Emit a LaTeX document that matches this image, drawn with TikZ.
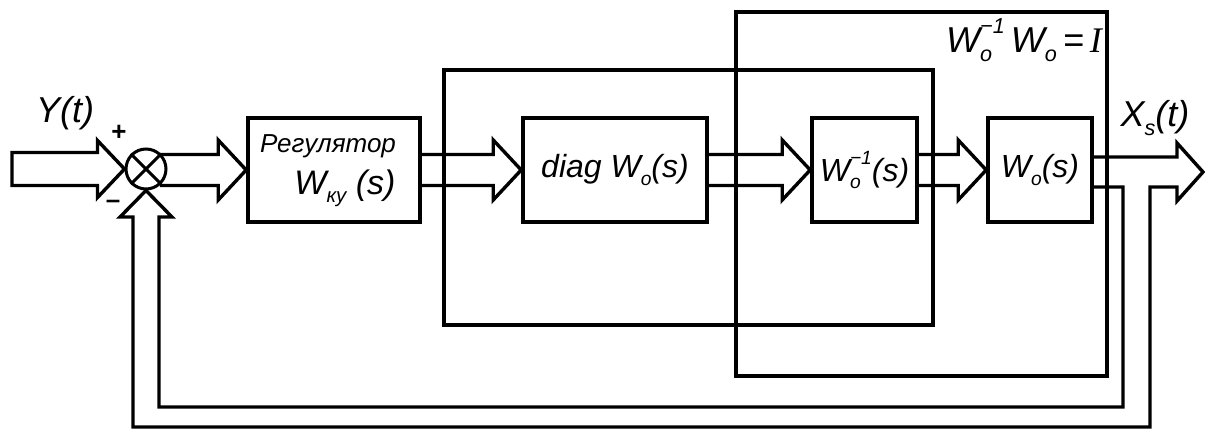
\documentclass[tikz,border=0pt]{standalone}
\usepackage{fontspec}
\setmainfont{Liberation Sans}
\newfontfamily\serifI{Liberation Serif}
\usetikzlibrary{calc}
\newcommand{\lo}[1]{\raisebox{-0.45ex}{\scalebox{0.6}{#1}}}
\newcommand{\lohi}[2]{\rlap{\raisebox{-0.45ex}{\scalebox{0.6}{#1}}}\raisebox{1.0ex}{\scalebox{0.6}{#2}}}
\newcommand{\dbl}[2]{%
  \draw[arr] let \p1=(#1), \p2=(#2) in
    (\x1,\y2+7.75pt) -- (\x2-14pt,\y2+7.75pt) -- (\x2-14pt,\y2+15pt) -- (\p2)
    -- (\x2-14pt,\y2-15pt) -- (\x2-14pt,\y2-7.75pt) -- (\x1,\y2-7.75pt);}
\begin{document}
\begin{tikzpicture}[x=0.5pt,y=-0.5pt,
  arr/.style={draw, line width=1.7pt, line join=miter},
  blk/.style={draw, line width=1.8pt, inner sep=0pt, minimum height=52pt,
    font=\itshape\fontsize{16}{16}\selectfont},
  lbl/.style={inner sep=0pt, font=\itshape\fontsize{18}{18}\selectfont}]
\useasboundingbox (0,0) rectangle (1205,432);

% enclosures
\draw[line width=1.6pt] (444,70) rectangle (933,325);
\draw[line width=1.6pt] (736,12) rectangle (1107,376);

% blocks
\node[blk, minimum width=86pt] (reg) at (334,170) {};
\node[lbl, font=\itshape\fontsize{13}{13}\selectfont] (regt) at (328,146) {Регулятор};
\node[lbl, font=\itshape\fontsize{17}{17}\selectfont] (regw) at (345,188) {W\lo{ку} (s)};
\node[blk, minimum width=92pt] (diag) at (615,170) {diag W\lo{o}(s)};
\node[blk, minimum width=52.5pt] (winv) at (864.5,170) {W\lohi{o}{−1}(s)};
\node[blk, minimum width=52pt] (w0) at (1040,170) {W\lo{o}(s)};

% summing junction
\node[draw, circle, line width=1.5pt, minimum size=20pt, inner sep=0pt] (sum) at (146,169) {};
\draw[line width=1.5pt] (sum.45) -- (sum.225) (sum.135) -- (sum.-45);

% input arrow (closed end)
\coordinate (in) at (12,169);
\draw[arr] let \p1=(in), \p2=(sum.west) in
  (\x1,\y2+8.25pt) -- (\x2-13.5pt,\y2+8.25pt) -- (\x2-13.5pt,\y2+14.25pt) -- (\p2)
  -- (\x2-13.5pt,\y2-14.25pt) -- (\x2-13.5pt,\y2-8.25pt) -- (\x1,\y2-8.25pt) -- cycle;

% forward double arrows
\dbl{sum.50}{reg.west}
\dbl{reg.east}{diag.west}
\dbl{diag.east}{winv.west}
\dbl{winv.east}{w0.west}

% output arrow and feedback path
\coordinate (out) at (1203,172);
\draw[arr] ($(w0.east)+(0,-13)$) -- (1177,157) -- (1177,143) -- (out) -- (1177,201)
  -- (1177,187) -- (1150,187) -- (1150,427) -- (133,427) -- (133,217) -- (120,217)
  -- (sum.south) -- (172,217) -- (159,217) -- (159,407) -- (1123,407) -- (1123,187)
  -- ($(w0.east)+(0,17)$);

% labels
\node[lbl] (ylbl) at (65,113) {Y(t)};
\node[lbl] (xlbl) at (1155,118) {X\lo{s}(t)};
\node[inner sep=0pt, font=\bfseries\fontsize{13}{13}\selectfont] (plus) at (119,133) {+};
\node[inner sep=0pt, font=\bfseries\fontsize{13}{13}\selectfont] (minus) at (113,204) {–};
\node[lbl, font=\itshape\fontsize{18}{18}\selectfont] (idlbl) at (1024,40) {W\lohi{o}{−1}\,W\lo{o}\,=\,{\serifI I}};
\end{tikzpicture}
\end{document}
